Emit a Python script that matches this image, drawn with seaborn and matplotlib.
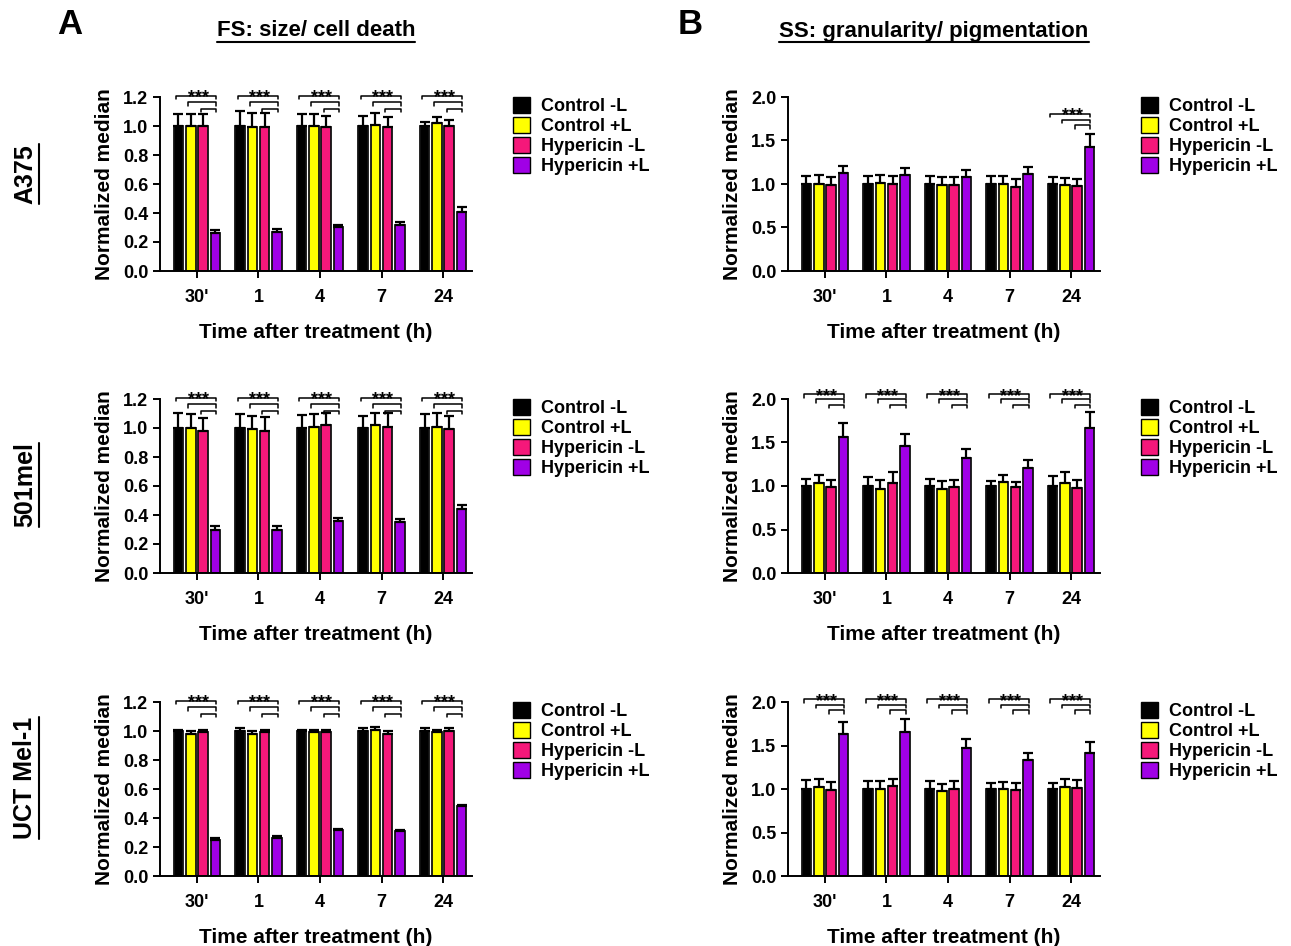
import matplotlib.pyplot as plt
from matplotlib.patches import Patch
from matplotlib.lines import Line2D
import numpy as np
import pandas as pd
import seaborn as sns

# Categories
times = ["30'", "1", "4", "7", "24"]
groups = ["Control -L", "Control +L", "Hypericin -L", "Hypericin +L"]
cell_lines = ["A375", "501mel", "UCT Mel-1"]

# FS (size / cell death): mean and upper error, one row per time point
fs_a375_mean = [[1.00, 1.00, 1.00, 0.26], [1.00, 0.99, 0.99, 0.27], [1.00, 1.00, 0.99, 0.30],
                [1.00, 1.01, 0.99, 0.32], [1.00, 1.02, 1.00, 0.41]]
fs_a375_err = [[0.08, 0.08, 0.08, 0.02], [0.10, 0.10, 0.10, 0.02], [0.08, 0.08, 0.08, 0.02],
               [0.07, 0.08, 0.07, 0.02], [0.03, 0.04, 0.04, 0.03]]
fs_501_mean = [[1.00, 1.00, 0.98, 0.30], [1.00, 0.99, 0.98, 0.30], [1.00, 1.01, 1.02, 0.36],
               [1.00, 1.02, 1.01, 0.35], [1.00, 1.01, 0.99, 0.44]]
fs_501_err = [[0.10, 0.095, 0.09, 0.025], [0.095, 0.09, 0.095, 0.025], [0.09, 0.085, 0.08, 0.02],
              [0.08, 0.08, 0.09, 0.02], [0.095, 0.095, 0.095, 0.03]]
fs_uct_mean = [[1.00, 0.98, 0.99, 0.25], [1.00, 0.98, 0.99, 0.26], [1.00, 0.99, 0.99, 0.32],
               [1.00, 1.01, 0.98, 0.31], [1.00, 0.99, 1.00, 0.48]]
fs_uct_err = [[0.01, 0.02, 0.015, 0.01], [0.02, 0.02, 0.02, 0.015], [0.01, 0.015, 0.015, 0.005],
              [0.02, 0.015, 0.02, 0.005], [0.02, 0.02, 0.02, 0.01]]

# SS (granularity / pigmentation)
ss_a375_mean = [[1.00, 1.00, 0.99, 1.13], [1.00, 1.01, 1.00, 1.10], [1.00, 0.99, 0.99, 1.08],
                [1.00, 1.00, 0.97, 1.12], [1.00, 0.99, 0.98, 1.43]]
ss_a375_err = [[0.09, 0.10, 0.09, 0.08], [0.09, 0.09, 0.09, 0.08], [0.09, 0.09, 0.09, 0.08],
               [0.09, 0.09, 0.09, 0.07], [0.08, 0.08, 0.08, 0.14]]
ss_501_mean = [[1.00, 1.03, 0.99, 1.56], [1.00, 0.97, 1.04, 1.46], [1.00, 0.97, 0.99, 1.32],
               [1.00, 1.05, 0.99, 1.21], [1.00, 1.04, 0.98, 1.67]]
ss_501_err = [[0.085, 0.10, 0.08, 0.16], [0.10, 0.095, 0.12, 0.14], [0.08, 0.085, 0.075, 0.10],
              [0.06, 0.08, 0.06, 0.09], [0.11, 0.12, 0.09, 0.18]]
ss_uct_mean = [[1.00, 1.02, 0.99, 1.63], [1.00, 1.00, 1.03, 1.66], [1.00, 0.98, 1.00, 1.47],
               [1.00, 1.00, 0.99, 1.33], [1.00, 1.02, 1.01, 1.41]]
ss_uct_err = [[0.10, 0.09, 0.09, 0.14], [0.09, 0.09, 0.09, 0.14], [0.09, 0.08, 0.09, 0.11],
              [0.07, 0.08, 0.08, 0.08], [0.07, 0.09, 0.09, 0.13]]

# Time points (index) marked *** against Hypericin +L
fs_sig = [0, 1, 2, 3, 4]
ss_a375_sig = [4]
ss_sig = [0, 1, 2, 3, 4]

colors = ["#000000", "#FFFF00", "#F5187A", "#A000E6"]

sns.set_style("ticks")
plt.rcParams['font.family'] = ['Liberation Sans', 'DejaVu Sans']
plt.rcParams['font.weight'] = 'bold'
plt.rcParams['axes.labelweight'] = 'bold'
for key in ['text.color', 'axes.labelcolor', 'xtick.color', 'ytick.color', 'axes.edgecolor']:
    plt.rcParams[key] = 'black'


def to_frame(mean, err):
    rows = []
    for i, t in enumerate(times):
        for k, g in enumerate(groups):
            rows.append({'time': t, 'group': g, 'value': mean[i][k], 'err': err[i][k]})
    return pd.DataFrame(rows)


def draw_panel(ax, mean, err, sig, ymax, yticks, bracket_y):
    df = to_frame(mean, err)
    sns.barplot(data=df, x='time', y='value', hue='group', order=times, hue_order=groups,
                palette=colors, saturation=1, gap=0.22, edgecolor='#111111', linewidth=1.3,
                errorbar=None, legend=False, ax=ax)
    bar_conts = list(ax.containers)

    # Upper error bars only
    centers = []
    for k, cont in enumerate(bar_conts):
        xs = np.array([p.get_x() + p.get_width() / 2 for p in cont])
        ys = np.array([p.get_height() for p in cont])
        e = df[df['group'] == groups[k]]['err'].values
        ax.errorbar(xs, ys, yerr=[np.zeros(len(e)), e], fmt='none', ecolor='black',
                    elinewidth=1.6, capsize=3.5, capthick=1.6, zorder=3)
        centers.append(xs)

    # Significance brackets
    tick = 0.022 * ymax
    for i in sig:
        xr = centers[3][i] + 0.01
        for j in range(3):
            xl = centers[j][i] - 0.04
            h = bracket_y[j]
            ax.plot([xl, xl, xr, xr], [h - tick, h, h, h - tick], color='black', lw=1.1,
                    clip_on=False, zorder=4)
        ax.annotate('***', (i + 0.02, bracket_y[0]), xytext=(0, -5), textcoords='offset points',
                    ha='center', va='baseline', fontsize=13, annotation_clip=False)

    ax.set_ylim(0, ymax)
    ax.set_xlim(-0.6, 4.47)
    ax.set_yticks(yticks)
    ax.set_yticklabels([f"{v:.1f}" for v in yticks])
    ax.tick_params(axis='both', labelsize=13, width=1.4, length=5)
    ax.tick_params(axis='x', pad=8)
    ax.set_xlabel('Time after treatment (h)', fontsize=15, labelpad=12)
    ax.set_ylabel('Normalized median', fontsize=15, labelpad=6)
    for s in ['left', 'bottom']:
        ax.spines[s].set_linewidth(1.4)
    sns.despine(ax=ax)

    handles = [Patch(facecolor=c, edgecolor='black', linewidth=1.0) for c in colors]
    ax.legend(handles, groups, loc='upper left', bbox_to_anchor=(1.13, 1.0), frameon=False,
              fontsize=13, handlelength=0.95, handleheight=0.95, handletextpad=0.6,
              labelspacing=0.12, borderpad=0, borderaxespad=0)


W, H = 1291, 946
fig = plt.figure(figsize=(W / 100, H / 100), dpi=100)

ax_w = 312 / W
ax_h = 174 / H
lefts = [160 / W, 788 / W]
bottoms = [1 - 271 / H, 1 - 573 / H, 1 - 876 / H]

fs_data = [(fs_a375_mean, fs_a375_err), (fs_501_mean, fs_501_err), (fs_uct_mean, fs_uct_err)]
ss_data = [(ss_a375_mean, ss_a375_err), (ss_501_mean, ss_501_err), (ss_uct_mean, ss_uct_err)]
ss_sigs = [ss_a375_sig, ss_sig, ss_sig]
ss_brackets = [[1.81, 1.74, 1.68], [2.06, 2.0, 1.935], [2.03, 1.97, 1.905]]

for r in range(3):
    ax = fig.add_axes([lefts[0], bottoms[r], ax_w, ax_h])
    draw_panel(ax, fs_data[r][0], fs_data[r][1], fs_sig, 1.2,
               [0.0, 0.2, 0.4, 0.6, 0.8, 1.0, 1.2], [1.21, 1.165, 1.12])
    ax = fig.add_axes([lefts[1], bottoms[r], ax_w, ax_h])
    draw_panel(ax, ss_data[r][0], ss_data[r][1], ss_sigs[r], 2.0,
               [0.0, 0.5, 1.0, 1.5, 2.0], ss_brackets[r])

# Headers and row labels
fig.text(70 / W, 1 - 24 / H, 'A', fontsize=25, ha='center', va='center')
fig.text(690 / W, 1 - 24 / H, 'B', fontsize=25, ha='center', va='center')
titles = [fig.text(316 / W, 1 - 31 / H, 'FS: size/ cell death', fontsize=16,
                   ha='center', va='center'),
          fig.text(934 / W, 1 - 31 / H, 'SS: granularity/ pigmentation', fontsize=16,
                   ha='center', va='center')]
row_y = [174, 485, 778]
row_labels = [fig.text(25 / W, 1 - y / H, name, fontsize=18, rotation=90,
                       ha='center', va='center') for name, y in zip(cell_lines, row_y)]

# Underline headers and row labels
fig.canvas.draw()
renderer = fig.canvas.get_renderer()
for t in titles:
    bb = t.get_window_extent(renderer)
    y = (bb.y0 - 1) / H
    fig.add_artist(Line2D([bb.x0 / W, bb.x1 / W], [y, y], color='black', lw=1.5))
for t in row_labels:
    bb = t.get_window_extent(renderer)
    x = (bb.x1 + 2) / W
    fig.add_artist(Line2D([x, x], [bb.y0 / H, bb.y1 / H], color='black', lw=1.5))

fig.savefig('out.png', dpi=100)
